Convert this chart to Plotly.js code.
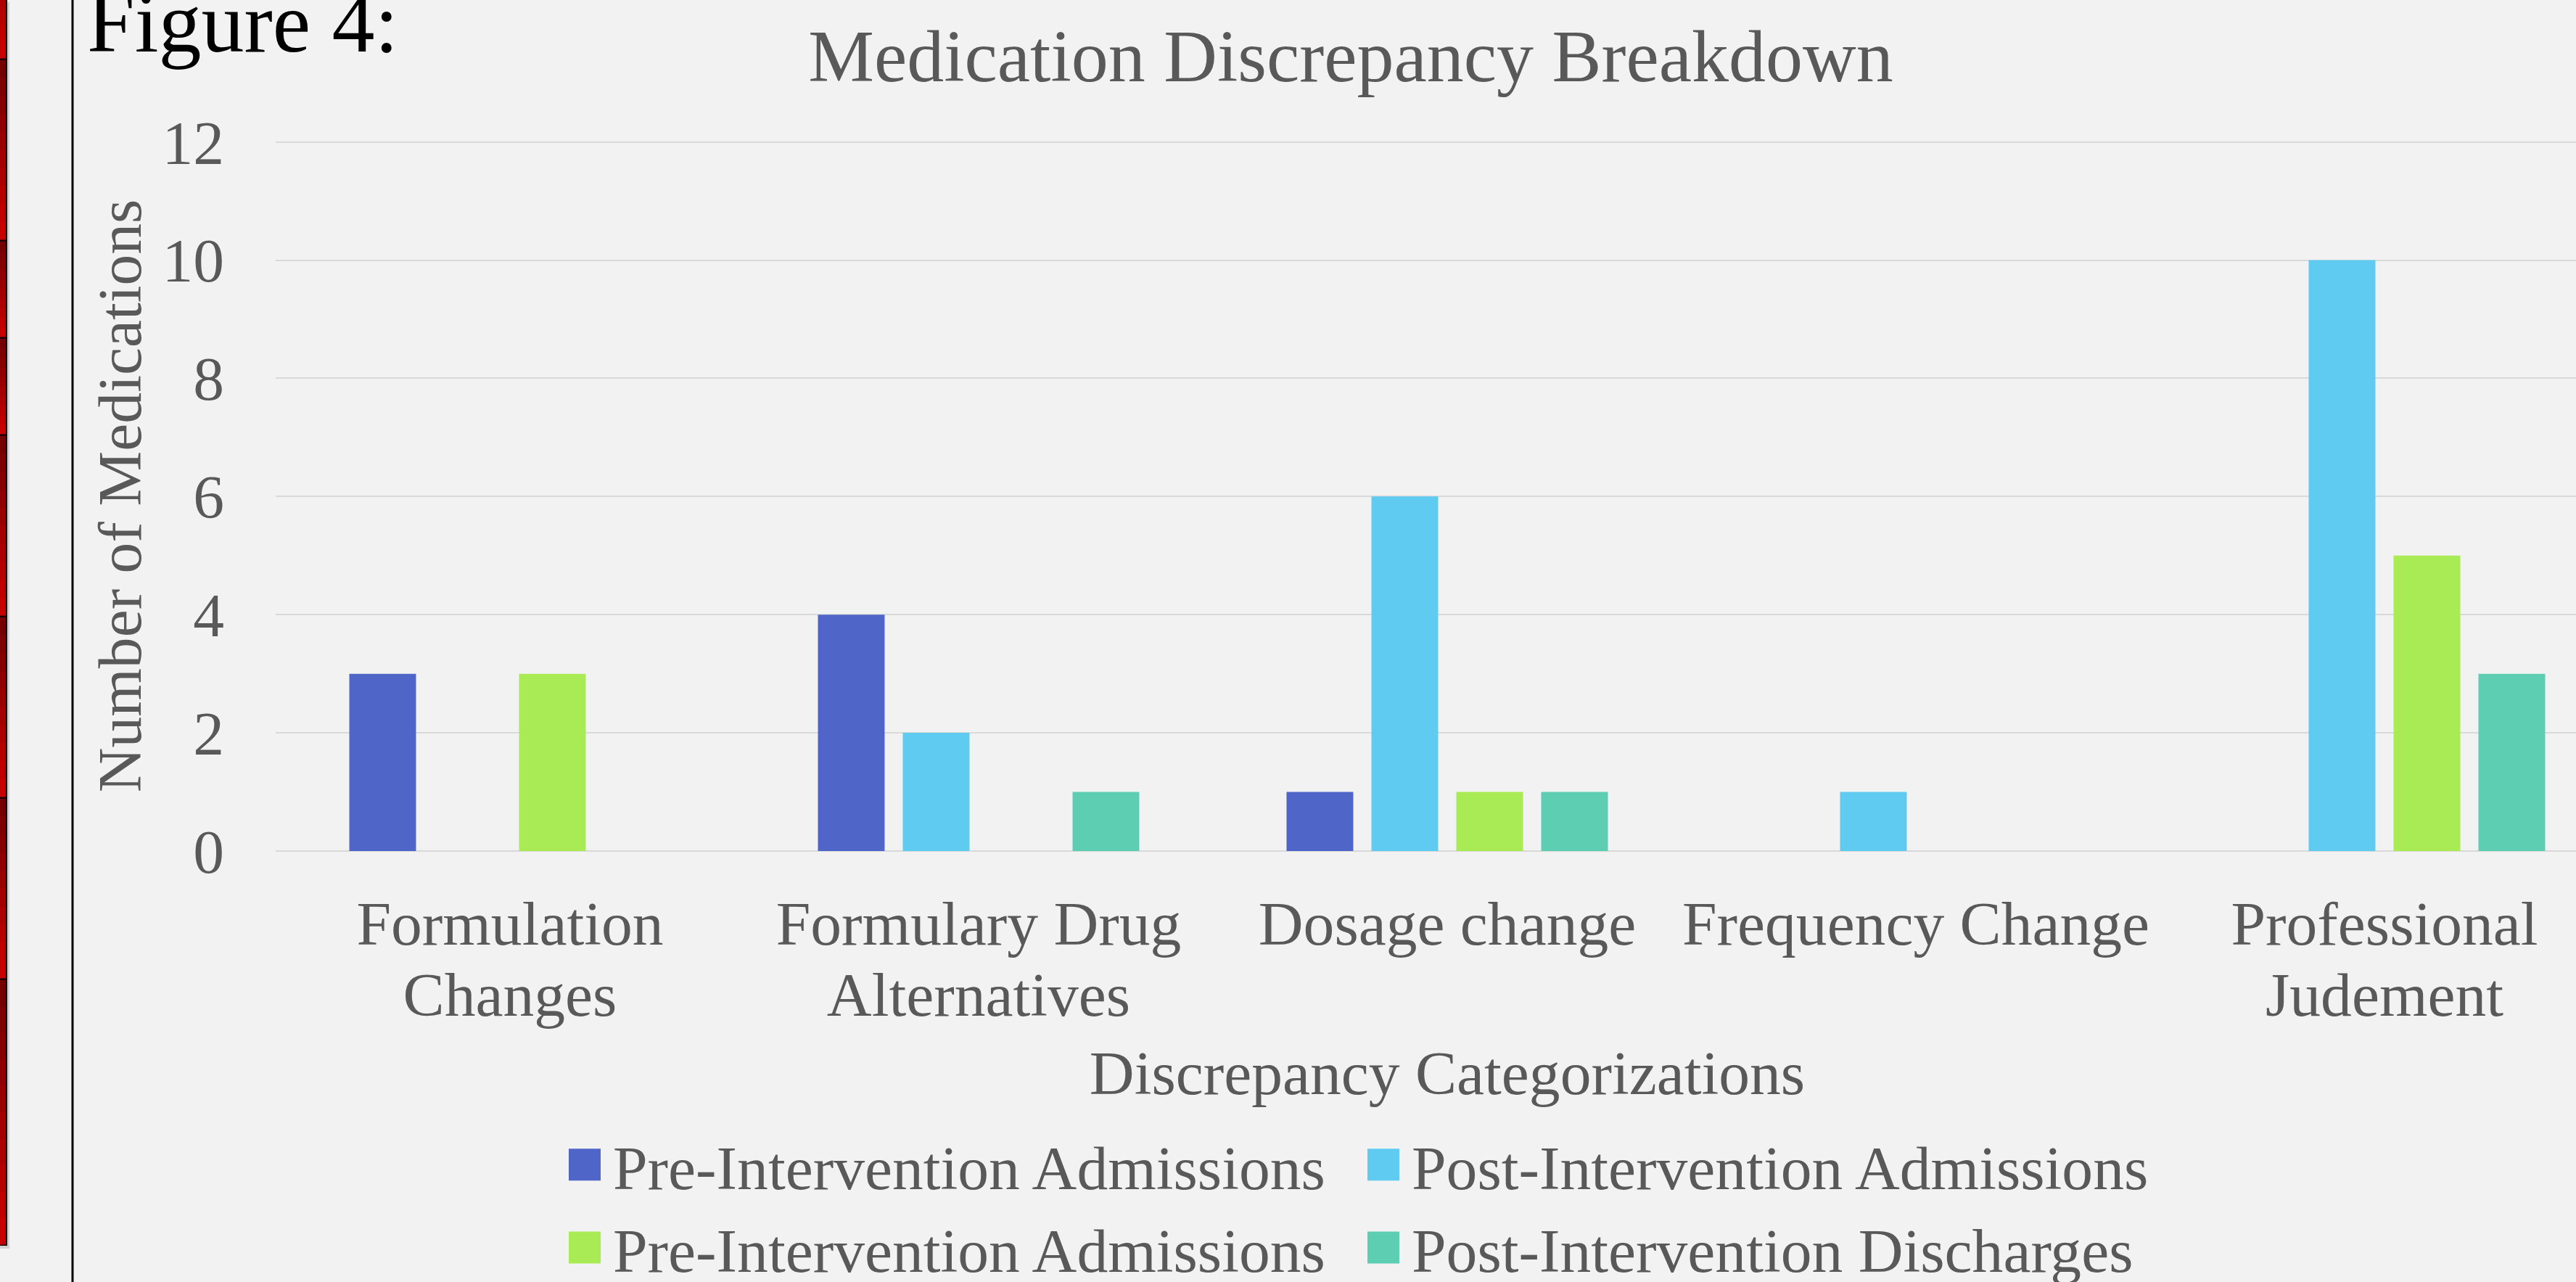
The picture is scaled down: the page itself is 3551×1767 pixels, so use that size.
<!DOCTYPE html>
<html>
<head>
<meta charset="utf-8">
<script src="https://cdn.plot.ly/plotly-3.0.1.min.js"></script>
<style>
html, body { margin: 0; padding: 0; background: #F2F2F2; overflow: hidden; width: 3551px; height: 1767px; }
#chart { width: 3610px; height: 1767px; }
</style>
</head>
<body>
<div id="chart"></div>
<script>
// ---- data ----
const categories = ['Formulation<br>Changes', 'Formulary Drug<br>Alternatives', 'Dosage change', 'Frequency Change', 'Professional<br>Judement'];
const seriesNames = ['Pre-Intervention Admissions', 'Post-Intervention Admissions', 'Pre-Intervention Admissions', 'Post-Intervention Discharges'];
const preInterventionAdmissions = [3, 4, 1, 0, 0];
const postInterventionAdmissions = [0, 2, 6, 1, 10];
const preInterventionAdmissions2 = [3, 0, 1, 0, 5];
const postInterventionDischarges = [0, 1, 1, 0, 3];
const yTickValues = [0, 2, 4, 6, 8, 10, 12];
const chartTitle = 'Medication Discrepancy Breakdown';
const xTitle = 'Discrepancy Categorizations';
const yTitle = 'Number of Medications';
const figureLabel = 'Figure 4:';

// ---- styles ----
const seriesColors = ['#4F66C8', '#5FCBF1', '#A9EB54', '#5ECEB3'];
const FONT = 'Liberation Serif, "Times New Roman", serif';
const TXT = '#595959';
const FS = 85.6;
const W = 3610, H = 1767;
const M = { l: 380, r: 0, t: 194, b: 594 };
const PW = W - M.l - M.r, PH = H - M.t - M.b;
const px2x = p => (p - M.l) / PW;
const py2y = p => (H - M.b - p) / PH;

const seriesValues = [preInterventionAdmissions, postInterventionAdmissions, preInterventionAdmissions2, postInterventionDischarges];
const traces = seriesValues.map((vals, i) => ({
  type: 'bar',
  x: categories,
  y: vals,
  name: seriesNames[i],
  marker: { color: seriesColors[i] },
  hoverinfo: 'x+y+name'
}));

// decorative slide strip on the left
const shapes = [];
shapes.push({ type: 'rect', xref: 'paper', yref: 'paper', x0: px2x(10), x1: px2x(13), y0: py2y(3), y1: py2y(1721), fillcolor: '#D2D2D2', line: { width: 0 }, layer: 'below' });
shapes.push({ type: 'rect', xref: 'paper', yref: 'paper', x0: px2x(0), x1: px2x(13), y0: py2y(1717), y1: py2y(1721), fillcolor: '#D2D2D2', line: { width: 0 }, layer: 'below' });
shapes.push({ type: 'rect', xref: 'paper', yref: 'paper', x0: px2x(0), x1: px2x(10), y0: py2y(0), y1: py2y(1717), fillcolor: '#1A0000', line: { width: 0 }, layer: 'below' });
const segs = [[0, 80, 0.65], [83, 330, 0], [333, 464, 0], [467, 598, 0], [601, 848, 0], [851, 1098, 0], [1101, 1348, 0], [1351, 1715, 0]];
const NB = 10;
segs.forEach(([a, b, s]) => {
  for (let k = 0; k < NB; k++) {
    const t = s + (1 - s) * (k + 0.5) / NB;
    const r = Math.round(112 + (204 - 112) * t);
    shapes.push({ type: 'rect', xref: 'paper', yref: 'paper', x0: px2x(0), x1: px2x(8),
      y0: py2y(a + (b - a) * k / NB), y1: py2y(a + (b - a) * (k + 1) / NB + 0.5),
      fillcolor: 'rgb(' + r + ',0,0)', line: { width: 0 }, layer: 'below' });
  }
});
shapes.push({ type: 'line', xref: 'paper', yref: 'paper', x0: px2x(100), x1: px2x(100), y0: py2y(0), y1: py2y(H), line: { color: '#000000', width: 3 }, layer: 'below' });

const layout = {
  width: W, height: H,
  margin: M,
  paper_bgcolor: '#F2F2F2',
  plot_bgcolor: '#F2F2F2',
  font: { family: FONT, color: TXT, size: FS },
  title: { text: chartTitle, font: { family: FONT, color: TXT, size: 102 }, xref: 'paper', x: px2x(1862), xanchor: 'center', yref: 'container', y: 1 - 41 / H, yanchor: 'top' },
  barmode: 'group',
  bargap: 0.2755,
  bargroupgap: 0.214,
  xaxis: {
    range: [-0.5, 4.5],
    showgrid: false, zeroline: false, showline: false, ticks: '',
    tickfont: { family: FONT, color: TXT, size: FS },
    ticklabelstandoff: 42,
    title: { text: xTitle, font: { family: FONT, color: TXT, size: FS }, standoff: 17 },
    automargin: false, fixedrange: true
  },
  yaxis: {
    range: [0, 12.02],
    tickvals: yTickValues,
    showgrid: true, gridcolor: '#D9D9D9', gridwidth: 2,
    zeroline: true, zerolinecolor: '#D9D9D9', zerolinewidth: 2,
    showline: false, ticks: '',
    tickfont: { family: FONT, color: TXT, size: FS },
    ticklabelstandoff: 70,
    title: { text: yTitle, font: { family: FONT, color: TXT, size: FS }, standoff: 0 },
    automargin: false, fixedrange: true
  },
  legend: {
    orientation: 'h',
    xref: 'paper', x: px2x(767), xanchor: 'left',
    yref: 'container', y: 1 - 1543 / H, yanchor: 'top',
    itemwidth: 68,
    entrywidth: 1018, entrywidthmode: 'pixels',
    font: { family: FONT, color: TXT, size: FS },
    bgcolor: 'rgba(0,0,0,0)',
    traceorder: 'normal'
  },
  annotations: [{
    text: figureLabel, xref: 'paper', yref: 'paper', x: px2x(118), xanchor: 'left',
    y: py2y(31), yanchor: 'middle', showarrow: false,
    font: { family: FONT, color: '#000000', size: 118 }
  }],
  shapes: shapes,
  showlegend: true
};

Plotly.newPlot('chart', traces, layout, { displayModeBar: false, staticPlot: true }).then(gd => {
  // enlarge the legend swatches to match the reference's square keys
  gd.querySelectorAll('.legend .legendpoints path').forEach(p => {
    p.setAttribute('d', 'M22,22H-22V-22H22Z');
  });
  // tighter line spacing for the two-line category labels
  gd.querySelectorAll('.xtick text tspan.line').forEach(t => {
    const dy = t.getAttribute('dy');
    if (dy && parseFloat(dy) > 0.5) t.setAttribute('dy', '1.15em');
  });
});
</script>
</body>
</html>
